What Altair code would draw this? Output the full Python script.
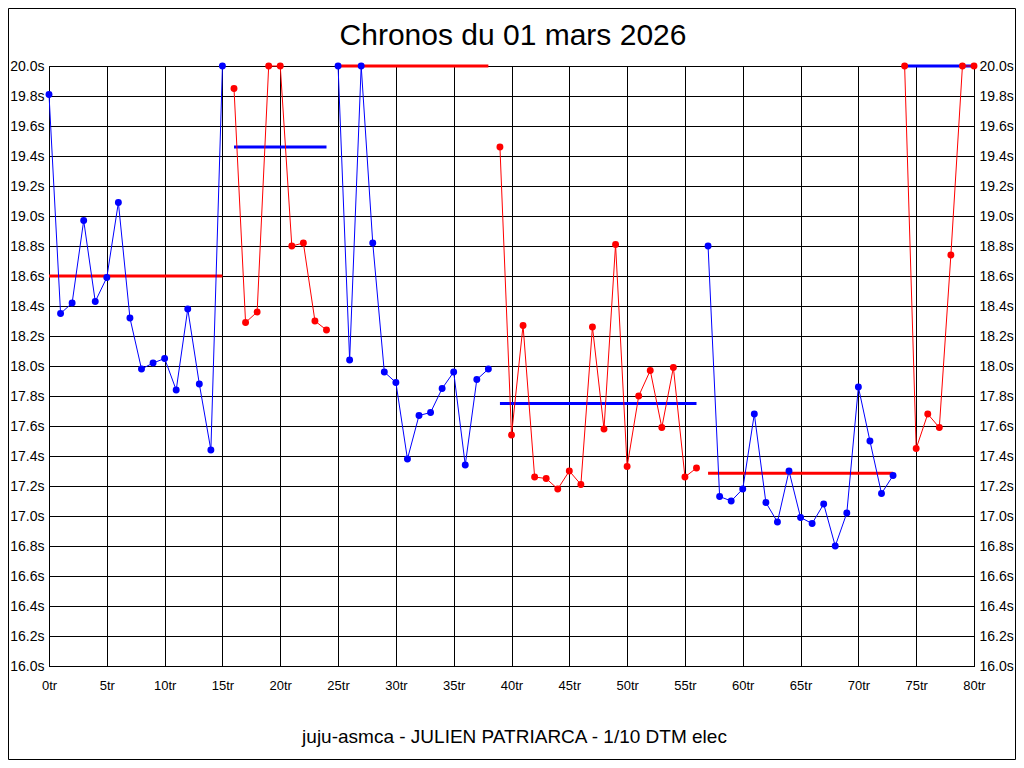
import altair as alt
import pandas as pd

# ---- data ----
lap_times = [
    19.81, 18.35, 18.42, 18.97, 18.43, 18.59, 19.09, 18.32, 17.98, 18.02, 18.05, 17.84, 18.38, 17.88, 17.44, 20.0,
    19.85, 18.29, 18.36, 20.0, 20.0, 18.80, 18.82, 18.30, 18.24,
    20.0, 18.04, 20.0, 18.82, 17.96, 17.89, 17.38, 17.67, 17.69, 17.85, 17.96, 17.34, 17.91, 17.98,
    19.46, 17.54, 18.27, 17.26, 17.25, 17.18, 17.30, 17.21, 18.26, 17.58, 18.81, 17.33, 17.80, 17.97, 17.59, 17.99, 17.26, 17.32,
    18.80, 17.13, 17.10, 17.18, 17.68, 17.09, 16.96, 17.30, 16.99, 16.95, 17.08, 16.80, 17.02, 17.86, 17.50, 17.15, 17.27,
    20.0, 17.45, 17.68, 17.59, 18.74, 20.0, 20.0,
]
seg_starts = [0, 16, 25, 39, 57, 74]
seg_ends = [15, 24, 38, 56, 73, 80]
seg_colors = ["#0000ff", "#ff0000", "#0000ff", "#ff0000", "#0000ff", "#ff0000"]
avg_values = [18.60, 19.46, 20.0, 17.75, 17.285, 20.0]
avg_colors = ["#ff0000", "#0000ff", "#ff0000", "#0000ff", "#ff0000", "#0000ff"]

x_ticks = [0, 5, 10, 15, 20, 25, 30, 35, 40, 45, 50, 55, 60, 65, 70, 75, 80]
y_ticks = [16.0, 16.2, 16.4, 16.6, 16.8, 17.0, 17.2, 17.4, 17.6, 17.8, 18.0,
           18.2, 18.4, 18.6, 18.8, 19.0, 19.2, 19.4, 19.6, 19.8, 20.0]

title_text = "Chronos du 01 mars 2026"
footer_text = "juju-asmca - JULIEN PATRIARCA - 1/10 DTM elec"

# ---- tables ----
rows = []
for s, (a, b) in enumerate(zip(seg_starts, seg_ends)):
    for lap in range(a, b + 1):
        rows.append({"lap": lap, "time": lap_times[lap], "seg": s, "color": seg_colors[s]})
df = pd.DataFrame(rows)

avg_df = pd.DataFrame({
    "start": seg_starts, "end": seg_ends, "avg": avg_values, "color": avg_colors,
})

FONT = "Liberation Sans"
W, H = 925, 600

x_scale = alt.Scale(domain=[0, 80], nice=False, zero=False)
x_axis = alt.Axis(
    values=x_ticks, labelExpr="datum.value + 'tr'", title=footer_text,
    titleFont=FONT, titleFontSize=19, titleFontWeight="normal", titleColor="black",
    titleY=76, titleX=465, titleBaseline="alphabetic", titleAlign="center",
    labelFontSize=13, labelPadding=13, labelFlush=False, labelOverlap=False,
)
y_scale = alt.Scale(domain=[16, 20], nice=False, zero=False)
y_axis_left = alt.Axis(
    values=y_ticks, labelExpr="format(datum.value, '.1f') + 's'", title=None,
    labelFontSize=14, labelPadding=5, orient="left", labelOverlap=False,
)
y_axis_right = alt.Axis(
    values=y_ticks, labelExpr="format(datum.value, '.1f') + 's'", title=None,
    labelFontSize=14, labelPadding=5, orient="right", grid=False, labelOverlap=False,
)

avg_layer = alt.Chart(avg_df).mark_rule(strokeWidth=3).encode(
    x=alt.X("start:Q", scale=x_scale, axis=x_axis),
    x2="end:Q",
    y=alt.Y("avg:Q", scale=y_scale, axis=y_axis_left),
    color=alt.Color("color:N", scale=None),
)

line_layer = alt.Chart(df).mark_line(strokeWidth=1).encode(
    x=alt.X("lap:Q", scale=x_scale, axis=x_axis),
    y=alt.Y("time:Q", scale=y_scale, axis=y_axis_left),
    detail="seg:N",
    color=alt.Color("color:N", scale=None),
)

pt_layer = alt.Chart(df).mark_circle(size=48, opacity=1).encode(
    x=alt.X("lap:Q", scale=x_scale, axis=x_axis),
    y=alt.Y("time:Q", scale=y_scale, axis=y_axis_left),
    color=alt.Color("color:N", scale=None),
)

title_layer = alt.Chart(pd.DataFrame({"t": [title_text]})).mark_text(
    font=FONT, fontSize=30, color="black", align="center", baseline="alphabetic"
).encode(text="t:N", x=alt.value(464), y=alt.value(-21))

frame = alt.Chart(pd.DataFrame({"k": [0]})).mark_rect(
    fillOpacity=0, stroke="black", strokeWidth=1
).encode(
    x=alt.value(-40.5), x2=alt.value(966.5), y=alt.value(-57.5), y2=alt.value(693.5)
)

left = alt.layer(avg_layer, line_layer, pt_layer, title_layer, frame)

right = alt.Chart(df).mark_point(opacity=0).encode(
    x=alt.X("lap:Q", scale=x_scale, axis=x_axis),
    y=alt.Y("time:Q", scale=y_scale, axis=y_axis_right),
)

chart = alt.layer(left, right).resolve_scale(y="independent").properties(
    width=W, height=H,
    autosize=alt.AutoSizeParams(type="none"),
    padding={"left": 41, "top": 58, "right": 42, "bottom": 94},
    background="white",
).configure_axis(
    grid=True, gridColor="black", gridOpacity=1, gridWidth=1,
    domainColor="black", domainWidth=1, ticks=False,
    labelColor="black", labelFont=FONT,
).configure_view(stroke="black", strokeWidth=1)

chart.save("out.html", embed_options={"renderer": "svg", "actions": False})
